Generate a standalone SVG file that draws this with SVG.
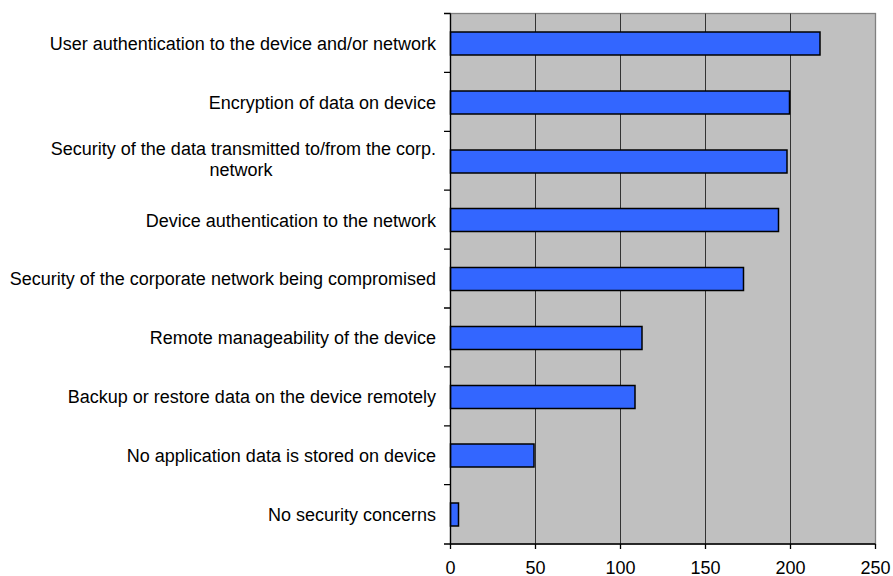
<svg xmlns="http://www.w3.org/2000/svg" width="893" height="576" viewBox="0 0 893 576">
<style>
text{font-family:"Liberation Sans",Arial,sans-serif;font-size:18px;fill:#000}
.lab{text-anchor:end}
.num{text-anchor:middle}
.bar{fill:#3366FF;stroke:#000;stroke-width:1.5}
.grid{stroke:#333;stroke-width:1}
.axis{stroke:#000;stroke-width:1.3;fill:none}
</style>
<rect width="893" height="576" fill="#fff"/>
<g id="plot">
<rect x="450.5" y="13.5" width="425" height="530.5" fill="#C0C0C0" stroke="#808080" stroke-width="1.3"/>
<line class="grid" x1="535.5" y1="13.5" x2="535.5" y2="544"/>
<line class="grid" x1="620.5" y1="13.5" x2="620.5" y2="544"/>
<line class="grid" x1="705.5" y1="13.5" x2="705.5" y2="544"/>
<line class="grid" x1="790.5" y1="13.5" x2="790.5" y2="544"/>
</g>
<g id="bars">
<rect class="bar" x="450.5" y="32" width="369.5" height="23"/>
<rect class="bar" x="450.5" y="91" width="339" height="23"/>
<rect class="bar" x="450.5" y="150" width="336.5" height="23"/>
<rect class="bar" x="450.5" y="208.5" width="328" height="23"/>
<rect class="bar" x="450.5" y="267.5" width="293" height="23"/>
<rect class="bar" x="450.5" y="326.5" width="191.5" height="23"/>
<rect class="bar" x="450.5" y="385.5" width="184.5" height="23"/>
<rect class="bar" x="450.5" y="444" width="83.5" height="23"/>
<rect class="bar" x="450.5" y="503" width="8" height="23"/>
</g>
<g id="axes">
<path class="axis" d="M450.5 13.5V544H875.5"/>
<path class="axis" d="M444 13.5H450.5M444 72.4H450.5M444 131.3H450.5M444 190.2H450.5M444 249.1H450.5M444 308H450.5M444 366.9H450.5M444 425.8H450.5M444 484.7H450.5M444 544H450.5"/>
<path class="axis" d="M450.5 544V549M535.5 544V549M620.5 544V549M705.5 544V549M790.5 544V549M875.5 544V549"/>
</g>
<g id="labels">
<text class="lab" x="436" y="49.5">User authentication to the device and/or network</text>
<text class="lab" x="436" y="108.5">Encryption of data on device</text>
<text class="lab" x="436" y="155">Security of the data transmitted to/from the corp.</text>
<text class="num" x="241" y="176">network</text>
<text class="lab" x="436" y="226.5">Device authentication to the network</text>
<text class="lab" x="436" y="285">Security of the corporate network being compromised</text>
<text class="lab" x="436" y="344">Remote manageability of the device</text>
<text class="lab" x="436" y="403">Backup or restore data on the device remotely</text>
<text class="lab" x="436" y="462">No application data is stored on device</text>
<text class="lab" x="436" y="521">No security concerns</text>
</g>
<g id="ticks">
<text class="num" x="450.5" y="574">0</text>
<text class="num" x="535.5" y="574">50</text>
<text class="num" x="620.5" y="574">100</text>
<text class="num" x="705.5" y="574">150</text>
<text class="num" x="790.5" y="574">200</text>
<text class="num" x="875.5" y="574">250</text>
</g>
</svg>
